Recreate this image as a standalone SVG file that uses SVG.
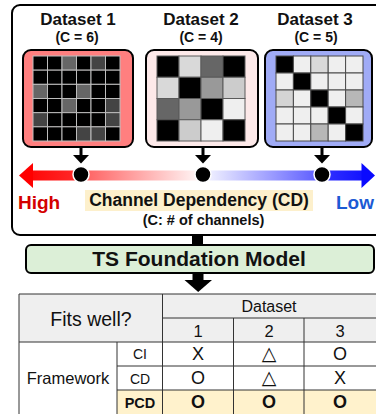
<svg xmlns="http://www.w3.org/2000/svg" width="376" height="414" viewBox="0 0 376 414">
<style>
text{font-family:"Liberation Sans",Arial,"DejaVu Sans",sans-serif;}
.b{font-weight:bold;}
.title{font-size:17px;font-weight:bold;text-anchor:middle;fill:#111;}
.sub{font-size:14px;font-weight:bold;text-anchor:middle;fill:#111;}
.frame{stroke:#000;stroke-width:2;}
.c1 rect{stroke:#bdbdbd;stroke-width:1;}
.c2 rect{stroke:#5a5a5a;stroke-width:1;}
.c3 rect{stroke:#4a4a4a;stroke-width:1;}
.tl{stroke:#333;stroke-width:1;fill:none;}
.tc{text-anchor:middle;fill:#111;}
.tri{font-family:"DejaVu Sans",sans-serif;}
</style>
<defs>
<linearGradient id="cdg" gradientUnits="userSpaceOnUse" x1="19" y1="0" x2="375" y2="0">
<stop offset="0" stop-color="#ff0000"/>
<stop offset="0.17" stop-color="#ff2a2a"/>
<stop offset="0.19" stop-color="#ff6464"/>
<stop offset="0.5" stop-color="#fff3f3"/>
<stop offset="0.53" stop-color="#f1f1ff"/>
<stop offset="0.83" stop-color="#6262ff"/>
<stop offset="0.87" stop-color="#2e2eff"/>
<stop offset="1" stop-color="#0a0aff"/>
</linearGradient>
</defs>

<!-- outer panel -->
<rect x="12" y="5" width="372" height="230" rx="8" fill="#fff" stroke="#000" stroke-width="2"/>

<g id="dataset1">
<text class="title" x="78" y="25">Dataset 1</text>
<text class="sub" x="77" y="42">(C = 6)</text>
<rect class="frame" x="23" y="50" width="110" height="97" rx="8" fill="#ff7f7f"/>
<g class="c1">
<rect x="33" y="56" width="14.5" height="14.17" fill="#000"/><rect x="47.5" y="56" width="14.5" height="14.17" fill="#000"/><rect x="62" y="56" width="14.5" height="14.17" fill="#666"/><rect x="76.5" y="56" width="14.5" height="14.17" fill="#000"/><rect x="91" y="56" width="14.5" height="14.17" fill="#444"/><rect x="105.5" y="56" width="14.5" height="14.17" fill="#000"/>
<rect x="33" y="70.17" width="14.5" height="14.17" fill="#000"/><rect x="47.5" y="70.17" width="14.5" height="14.17" fill="#000"/><rect x="62" y="70.17" width="14.5" height="14.17" fill="#000"/><rect x="76.5" y="70.17" width="14.5" height="14.17" fill="#000"/><rect x="91" y="70.17" width="14.5" height="14.17" fill="#000"/><rect x="105.5" y="70.17" width="14.5" height="14.17" fill="#000"/>
<rect x="33" y="84.33" width="14.5" height="14.17" fill="#666"/><rect x="47.5" y="84.33" width="14.5" height="14.17" fill="#000"/><rect x="62" y="84.33" width="14.5" height="14.17" fill="#000"/><rect x="76.5" y="84.33" width="14.5" height="14.17" fill="#666"/><rect x="91" y="84.33" width="14.5" height="14.17" fill="#000"/><rect x="105.5" y="84.33" width="14.5" height="14.17" fill="#000"/>
<rect x="33" y="98.5" width="14.5" height="14.17" fill="#000"/><rect x="47.5" y="98.5" width="14.5" height="14.17" fill="#000"/><rect x="62" y="98.5" width="14.5" height="14.17" fill="#666"/><rect x="76.5" y="98.5" width="14.5" height="14.17" fill="#000"/><rect x="91" y="98.5" width="14.5" height="14.17" fill="#000"/><rect x="105.5" y="98.5" width="14.5" height="14.17" fill="#444"/>
<rect x="33" y="112.67" width="14.5" height="14.17" fill="#444"/><rect x="47.5" y="112.67" width="14.5" height="14.17" fill="#000"/><rect x="62" y="112.67" width="14.5" height="14.17" fill="#000"/><rect x="76.5" y="112.67" width="14.5" height="14.17" fill="#000"/><rect x="91" y="112.67" width="14.5" height="14.17" fill="#000"/><rect x="105.5" y="112.67" width="14.5" height="14.17" fill="#444"/>
<rect x="33" y="126.83" width="14.5" height="14.17" fill="#000"/><rect x="47.5" y="126.83" width="14.5" height="14.17" fill="#000"/><rect x="62" y="126.83" width="14.5" height="14.17" fill="#000"/><rect x="76.5" y="126.83" width="14.5" height="14.17" fill="#444"/><rect x="91" y="126.83" width="14.5" height="14.17" fill="#444"/><rect x="105.5" y="126.83" width="14.5" height="14.17" fill="#000"/>
</g>
</g>

<g id="dataset2">
<text class="title" x="201" y="25">Dataset 2</text>
<text class="sub" x="201" y="42">(C = 4)</text>
<rect class="frame" x="146" y="50" width="112" height="97" rx="8" fill="#fde9e9"/>
<g class="c2">
<rect x="157" y="56" width="22" height="21.25" fill="#000"/><rect x="179" y="56" width="22" height="21.25" fill="#d9d9d9"/><rect x="201" y="56" width="22" height="21.25" fill="#666"/><rect x="223" y="56" width="22" height="21.25" fill="#000"/>
<rect x="157" y="77.25" width="22" height="21.25" fill="#d9d9d9"/><rect x="179" y="77.25" width="22" height="21.25" fill="#000"/><rect x="201" y="77.25" width="22" height="21.25" fill="#999"/><rect x="223" y="77.25" width="22" height="21.25" fill="#cccccc"/>
<rect x="157" y="98.5" width="22" height="21.25" fill="#666"/><rect x="179" y="98.5" width="22" height="21.25" fill="#999"/><rect x="201" y="98.5" width="22" height="21.25" fill="#000"/><rect x="223" y="98.5" width="22" height="21.25" fill="#efefef"/>
<rect x="157" y="119.75" width="22" height="21.25" fill="#000"/><rect x="179" y="119.75" width="22" height="21.25" fill="#cccccc"/><rect x="201" y="119.75" width="22" height="21.25" fill="#efefef"/><rect x="223" y="119.75" width="22" height="21.25" fill="#000"/>
</g>
</g>

<g id="dataset3">
<text class="title" x="315" y="25">Dataset 3</text>
<text class="sub" x="316" y="42">(C = 5)</text>
<rect class="frame" x="265" y="50" width="107" height="97" rx="8" fill="#a0abf6"/>
<g class="c3">
<rect x="276" y="56" width="17.4" height="17" fill="#000"/><rect x="293.4" y="56" width="17.4" height="17" fill="#efefef"/><rect x="310.8" y="56" width="17.4" height="17" fill="#d9d9d9"/><rect x="328.2" y="56" width="17.4" height="17" fill="#efefef"/><rect x="345.6" y="56" width="17.4" height="17" fill="#efefef"/>
<rect x="276" y="73" width="17.4" height="17" fill="#efefef"/><rect x="293.4" y="73" width="17.4" height="17" fill="#000"/><rect x="310.8" y="73" width="17.4" height="17" fill="#efefef"/><rect x="328.2" y="73" width="17.4" height="17" fill="#efefef"/><rect x="345.6" y="73" width="17.4" height="17" fill="#efefef"/>
<rect x="276" y="90" width="17.4" height="17" fill="#d4d4d4"/><rect x="293.4" y="90" width="17.4" height="17" fill="#efefef"/><rect x="310.8" y="90" width="17.4" height="17" fill="#000"/><rect x="328.2" y="90" width="17.4" height="17" fill="#efefef"/><rect x="345.6" y="90" width="17.4" height="17" fill="#b7b7b7"/>
<rect x="276" y="107" width="17.4" height="17" fill="#efefef"/><rect x="293.4" y="107" width="17.4" height="17" fill="#efefef"/><rect x="310.8" y="107" width="17.4" height="17" fill="#efefef"/><rect x="328.2" y="107" width="17.4" height="17" fill="#000"/><rect x="345.6" y="107" width="17.4" height="17" fill="#efefef"/>
<rect x="276" y="124" width="17.4" height="17" fill="#efefef"/><rect x="293.4" y="124" width="17.4" height="17" fill="#efefef"/><rect x="310.8" y="124" width="17.4" height="17" fill="#b7b7b7"/><rect x="328.2" y="124" width="17.4" height="17" fill="#efefef"/><rect x="345.6" y="124" width="17.4" height="17" fill="#000"/>
</g>
</g>

<g id="cd-axis">
<rect x="32" y="170.5" width="331" height="10" fill="url(#cdg)"/>
<polygon points="19,175.5 33,163 33,188" fill="#ff0000"/>
<polygon points="375,175.5 361.5,163 361.5,188" fill="#0a0aff"/>
<circle cx="81" cy="174.5" r="8" fill="#000" stroke="#fff" stroke-width="1.5"/>
<circle cx="203" cy="174.5" r="8" fill="#000" stroke="#fff" stroke-width="1.5"/>
<circle cx="322" cy="174.5" r="8" fill="#000" stroke="#fff" stroke-width="1.5"/>
<text class="b" x="18" y="208.5" font-size="19" fill="#d40000">High</text>
<text class="b" x="336" y="208.5" font-size="19" fill="#1c5ad4">Low</text>
<rect x="85" y="190" width="228" height="21" fill="#fdf0cc"/>
<text class="b tc" x="199" y="206" font-size="17.5">Channel Dependency (CD)</text>
<text class="b tc" x="203.5" y="225" font-size="14.5" fill="#222">(C: # of channels)</text>
</g>

<g id="ts-model">
<rect x="26" y="245" width="348" height="28" rx="5" fill="#dcefd7" stroke="#000" stroke-width="2"/>
<text class="b tc" x="199" y="266" font-size="21">TS Foundation Model</text>
</g>

<g id="connectors">
<g fill="#000">
<rect x="79.5" y="147" width="3" height="9"/><polygon points="73,155 89,155 81,163.5"/>
<rect x="201.5" y="147" width="3" height="9"/><polygon points="195,155 211,155 203,163.5"/>
<rect x="320.5" y="147" width="3" height="9"/><polygon points="314,155 330,155 322,163.5"/>
<rect x="192" y="236" width="11" height="9"/>
<rect x="192.5" y="273" width="11" height="8"/><polygon points="184.5,280 212,280 198.2,292"/>
</g>
</g>

<g id="table">
<rect x="19" y="294" width="360" height="48" fill="#efefef"/>
<rect x="19" y="342" width="360" height="72" fill="#fff"/>
<rect x="117" y="390" width="262" height="24" fill="#fff2cc"/>
<path class="tl" d="M19,294 H379 M162.5,318 H379 M19,342 H379 M117,366 H379 M117,390 H379 M19,294 V414 M117,342 V414 M162.5,294 V414 M233.5,318 V414 M304,318 V414"/>
<text class="tc" x="91" y="326" font-size="19.5">Fits well?</text>
<text class="tc" x="269" y="312" font-size="16">Dataset</text>
<text class="tc" x="198" y="337" font-size="16.5">1</text>
<text class="tc" x="269" y="337" font-size="16.5">2</text>
<text class="tc" x="340" y="337" font-size="16.5">3</text>
<text class="tc" x="68" y="384" font-size="16.5">Framework</text>
<text class="tc" x="140" y="359" font-size="14">CI</text>
<text class="tc" x="140" y="384" font-size="14">CD</text>
<text class="tc b" x="140" y="408" font-size="14.5">PCD</text>
<text class="tc" x="198" y="360" font-size="18">X</text>
<text class="tc tri" x="269" y="360" font-size="19">△</text>
<text class="tc" x="340" y="360" font-size="18">O</text>
<text class="tc" x="198" y="384" font-size="18">O</text>
<text class="tc tri" x="269" y="384" font-size="19">△</text>
<text class="tc" x="340" y="384" font-size="18">X</text>
<text class="tc b" x="198" y="408" font-size="18">O</text>
<text class="tc b" x="269" y="408" font-size="18">O</text>
<text class="tc b" x="340" y="408" font-size="18">O</text>
</g>
</svg>
